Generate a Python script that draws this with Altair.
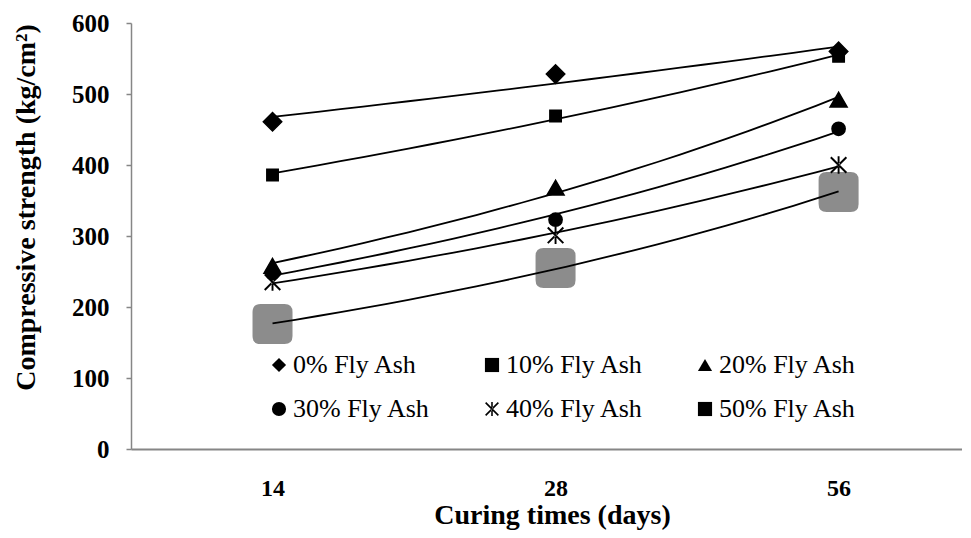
import altair as alt
import pandas as pd

series = ["0% Fly Ash", "10% Fly Ash", "20% Fly Ash", "30% Fly Ash", "40% Fly Ash", "50% Fly Ash"]
days = ["14", "28", "56"]
fa0 = [461, 528, 560]
fa10 = [386, 469, 553]
fa20 = [258, 368, 492]
fa30 = [248, 323, 451]
fa40 = [235, 301, 400]
fa50 = [176, 255, 362]
y_ticks = [0, 100, 200, 300, 400, 500, 600]

values = [fa0, fa10, fa20, fa30, fa40, fa50]
rows = []
for s, vals in zip(series, values):
    for i, v in enumerate(vals):
        rows.append({"series": s, "idx": i + 1, "value": v})
df = pd.DataFrame(rows)

# asterisk drawn as three thin filled bars (vertical + two diagonals)
ASTERISK = (
    "M-0.11,-1L0.11,-1L0.11,1L-0.11,1Z"
    "M-0.82,-0.98L0.98,0.82L0.82,0.98L-0.98,-0.82Z"
    "M-0.82,0.98L0.98,-0.82L0.82,-0.98L-0.98,0.82Z"
)
ROUNDSQ = "M-1,-0.6Q-1,-1,-0.6,-1L0.6,-1Q1,-1,1,-0.6L1,0.6Q1,1,0.6,1L-0.6,1Q-1,1,-1,0.6Z"
shapes = ["diamond", "square", "triangle-up", "circle", ASTERISK, "square"]
sizes = [340, 130, 290, 175, 300, 130]
strokes = [1.5, 1.5, 1.5, 1.5, 0, 1.5]

FONT = "Liberation Serif"
label_expr = "[" + ",".join("'%s'" % d for d in days) + "][datum.value - 1]"

x_enc = alt.X(
    "idx:Q",
    scale=alt.Scale(domain=[0.5, 3.436], nice=False, zero=False),
    axis=alt.Axis(
        values=[1, 2, 3], labelExpr=label_expr, ticks=False, grid=False,
        domainColor="#868686", domainWidth=2,
        labelFont=FONT, labelFontSize=24, labelFontWeight="bold", labelColor="black",
        labelBaseline="alphabetic", labelPadding=46,
        title="Curing times (days)", titleFont=FONT, titleFontSize=28,
        titleFontWeight="bold", titleColor="black", titleBaseline="alphabetic",
        titleX=421, titleY=74,
    ),
)
y_enc = alt.Y(
    "value:Q",
    scale=alt.Scale(domain=[0, 600], nice=False),
    axis=alt.Axis(
        values=y_ticks, grid=False, tickSize=5, tickColor="#868686", tickWidth=1.5,
        domainColor="#868686", domainWidth=1.5,
        labelFont=FONT, labelFontSize=25, labelFontWeight="bold", labelColor="black",
        labelPadding=17,
        title="Compressive strength (kg/cm²)", titleFont=FONT, titleFontSize=28,
        titleFontWeight="bold", titleColor="black", titleBaseline="alphabetic",
        titleX=-97, titleY=184, titleAngle=-90,
    ),
)

base = alt.Chart(df)

blob = base.transform_filter(alt.datum.series == series[5]).mark_point(
    shape=ROUNDSQ, size=1600, filled=True, color="#8c8c8c", opacity=1
).encode(x=x_enc, y=y_enc)

lines = base.transform_regression(
    "idx", "value", groupby=["series"], method="exp", extent=[1, 3]
).mark_line(color="black", strokeWidth=1.8).encode(
    x=x_enc, y=y_enc, detail="series:N"
)

# earlier series drawn on top (so the triangle covers the circle at 14 days)
point_layers = []
for s, shp, sz, sw in reversed(list(zip(series[:5], shapes[:5], sizes[:5], strokes[:5]))):
    point_layers.append(
        base.transform_filter(alt.datum.series == s).mark_point(
            shape=shp, size=sz, filled=True, color="black", stroke="black",
            strokeWidth=sw, opacity=1
        ).encode(x=x_enc, y=y_enc)
    )

legend_layer = base.mark_point(filled=True, color="black", opacity=0).encode(
    x=x_enc,
    y=y_enc,
    shape=alt.Shape(
        "series:N",
        scale=alt.Scale(domain=series, range=shapes),
        legend=alt.Legend(
            title=None, orient="none", legendX=135, legendY=329, columns=3,
            direction="horizontal", columnPadding=48, rowPadding=18,
            symbolSize=200, symbolFillColor="black", symbolOpacity=1,
            labelFont=FONT, labelFontSize=26,
            labelColor="black", labelOffset=1, labelLimit=400,
        ),
    ),
)

chart = alt.layer(blob, lines, *point_layers, legend_layer).properties(
    width=831, height=426,
    autosize=alt.AutoSizeParams(type="none"),
    padding={"left": 123, "top": 15, "right": 0, "bottom": 81},
).configure_view(stroke=None)

chart.save("out.html", embed_options={"renderer": "svg", "actions": False})
